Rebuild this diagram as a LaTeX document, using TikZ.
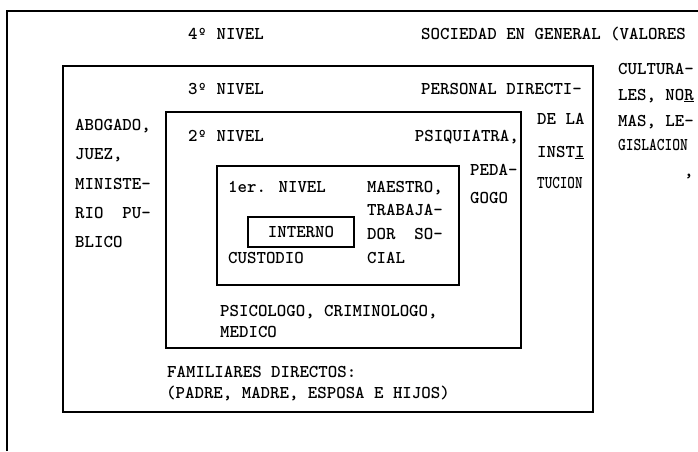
\documentclass[tikz,border=0pt]{standalone}
\usepackage{fontspec}
\usepackage{tikz}

\begin{document}
\begin{tikzpicture}[
        x=1pt, y=-1pt,
        % estilos
        nivel/.style={draw, line width=1.4pt},
        txt/.style={anchor=base west, inner sep=0pt, font=\ttfamily\bfseries\fontsize{18}{20}\selectfont},
        txtr/.style={txt, anchor=base east}
    ]
        \useasboundingbox (0,0) rectangle (698,451);

        % 1. Los recuadros de cada nivel
        \draw[nivel] (7,451) -- (7,11) -- (698,11);
        \draw[nivel] (63,66) rectangle (593,412);
        \draw[nivel] (166,112) rectangle (521,348);
        \draw[nivel] (217,166) rectangle (459,285);

        % 2. 4o nivel
        \node[txt] (n4) at (188,39.5) {4º NIVEL};
        \node[txt] (soc1) at (421,39) {SOCIEDAD EN GENERAL (VALORES};
        \node[txt] (soc2) at (618,74) {CULTURA-};
        \node[txt] (soc3) at (618,100) {LES, NO\underline{R}};
        \node[txt] (soc4) at (618,126) {MAS, LE-};
        \node[txt] (soc5) at (618,150) {\scalebox{0.82}[1]{GISLACION}};
        \node[txt] (marca) at (684,176) {,};
        \node[txt] (fam1) at (167,377) {FAMILIARES DIRECTOS:};
        \node[txt] (fam2) at (166,398) {(PADRE, MADRE, ESPOSA E HIJOS)};

        % 3. 3er nivel
        \node[txt] (n3) at (188,94.5) {3º NIVEL};
        \node[txt] (dir1) at (421,94) {PERSONAL DIRECTI-};
        \node[txt] (dir2) at (537,124) {DE LA};
        \node[txt] (dir3) at (537,157) {INST\underline{I}};
        \node[txt] (dir4) at (537,188) {\scalebox{0.8}[1]{TUCION}};
        \node[txt] (jur1) at (75,130) {ABOGADO,};
        \node[txt] (jur2) at (75,159) {JUEZ,};
        \node[txt] (jur3) at (75,189) {MINISTE-};
        \node[txt] (jur4) at (75,218) {RIO\ \ PU-};
        \node[txt] (jur5) at (75,247) {BLICO};

        % 4. 2o nivel
        \node[txt] (n2) at (188,141.5) {2º NIVEL};
        \node[txtr] (psq) at (519,141.5) {PSIQUIATRA,};
        \node[txt] (ped1) at (470,175) {PEDA-};
        \node[txt] (ped2) at (470,203) {GOGO};
        \node[txt] (psc1) at (220,316) {PSICOLOGO, CRIMINOLOGO,};
        \node[txt] (psc2) at (220,337) {MEDICO};

        % 5. 1er nivel e interno
        \node[txt] (n1) at (228,192) {1er. NIVEL};
        \node[txt] (mae1) at (367,192) {MAESTRO,};
        \node[txt] (mae2) at (367,215) {TRABAJA-};
        \node[txt] (mae3) at (367,239) {DOR\ \ SO-};
        \node[txt] (mae4) at (367,263) {CIAL};
        \node[txt] (cus) at (228,263) {CUSTODIO};
        \node[nivel, minimum width=106pt, minimum height=30pt, font=\ttfamily\bfseries\fontsize{18}{20}\selectfont] (int) at (301,232) {INTERNO};

    \end{tikzpicture}
\end{document}
